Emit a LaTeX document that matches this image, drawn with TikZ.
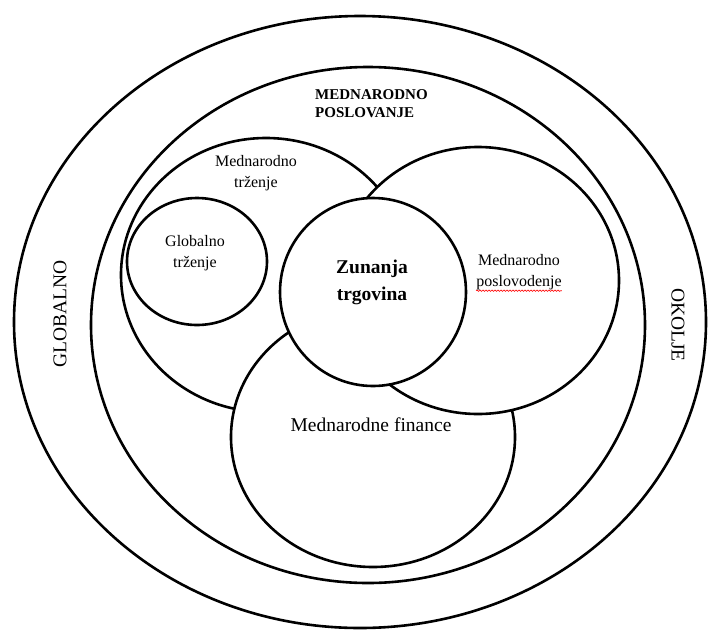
\documentclass[tikz,border=0pt]{standalone}
\usepackage{fontspec}
\setmainfont{Liberation Serif}
\usetikzlibrary{decorations.pathmorphing}
\begin{document}
\begin{tikzpicture}[x=1pt,y=-1pt,
  ring/.style={draw=black, fill=white, line width=2.6pt},
  lbl/.style={align=center, inner sep=0pt, font=\fontsize{16}{20.5}\selectfont},
  bigl/.style={align=center, inner sep=0pt, font=\fontsize{19.5}{24}\selectfont},
  boldl/.style={align=center, inner sep=0pt, font=\bfseries\fontsize{19.5}{27}\selectfont},
  headl/.style={align=left, inner sep=0pt, anchor=west, font=\bfseries\fontsize{15}{18}\selectfont},
  spell/.style={draw=red, line width=0.6pt, decorate, decoration={snake, amplitude=0.7pt, segment length=3pt}}
]
\fill[white] (0,0) rectangle (710,630);
\useasboundingbox (0,0) rectangle (710,630);
% environment and international business
\path[ring] (360,322) ellipse [x radius=346pt, y radius=306pt];
\path[ring] (368,325) ellipse [x radius=277pt, y radius=258pt];
% overlapping fields, back to front
\path[ring] (266,275) ellipse [x radius=145pt, y radius=137pt];
\path[ring] (373,437) ellipse [x radius=142pt, y radius=130pt];
\path[ring] (478,280.5) ellipse [x radius=141pt, y radius=133.5pt];
\path[ring] (373,292) ellipse [x radius=93pt, y radius=94pt];
\path[ring] (197,261.5) ellipse [x radius=70pt, y radius=63.5pt];
% labels
\node[headl] (mp) at (315,104) {MEDNARODNO\\POSLOVANJE};
\node[lbl] (mt) at (256,173) {Mednarodno\\trženje};
\node[lbl] (gt) at (195,253) {Globalno\\trženje};
\node[boldl] (zt) at (372,282) {Zunanja\\trgovina};
\node[lbl] (mpo) at (519,272) {Mednarodno\\poslovodenje};
\node[bigl] (mf) at (371,425) {Mednarodne finance};
\node[bigl, rotate=90] (gl) at (60,314) {GLOBALNO};
\node[bigl, rotate=-90] (ok) at (678,325) {OKOLJE};
\draw[spell] ([yshift=-1pt]mpo.south west) -- ([yshift=-1pt]mpo.south east);
\end{tikzpicture}
\end{document}
